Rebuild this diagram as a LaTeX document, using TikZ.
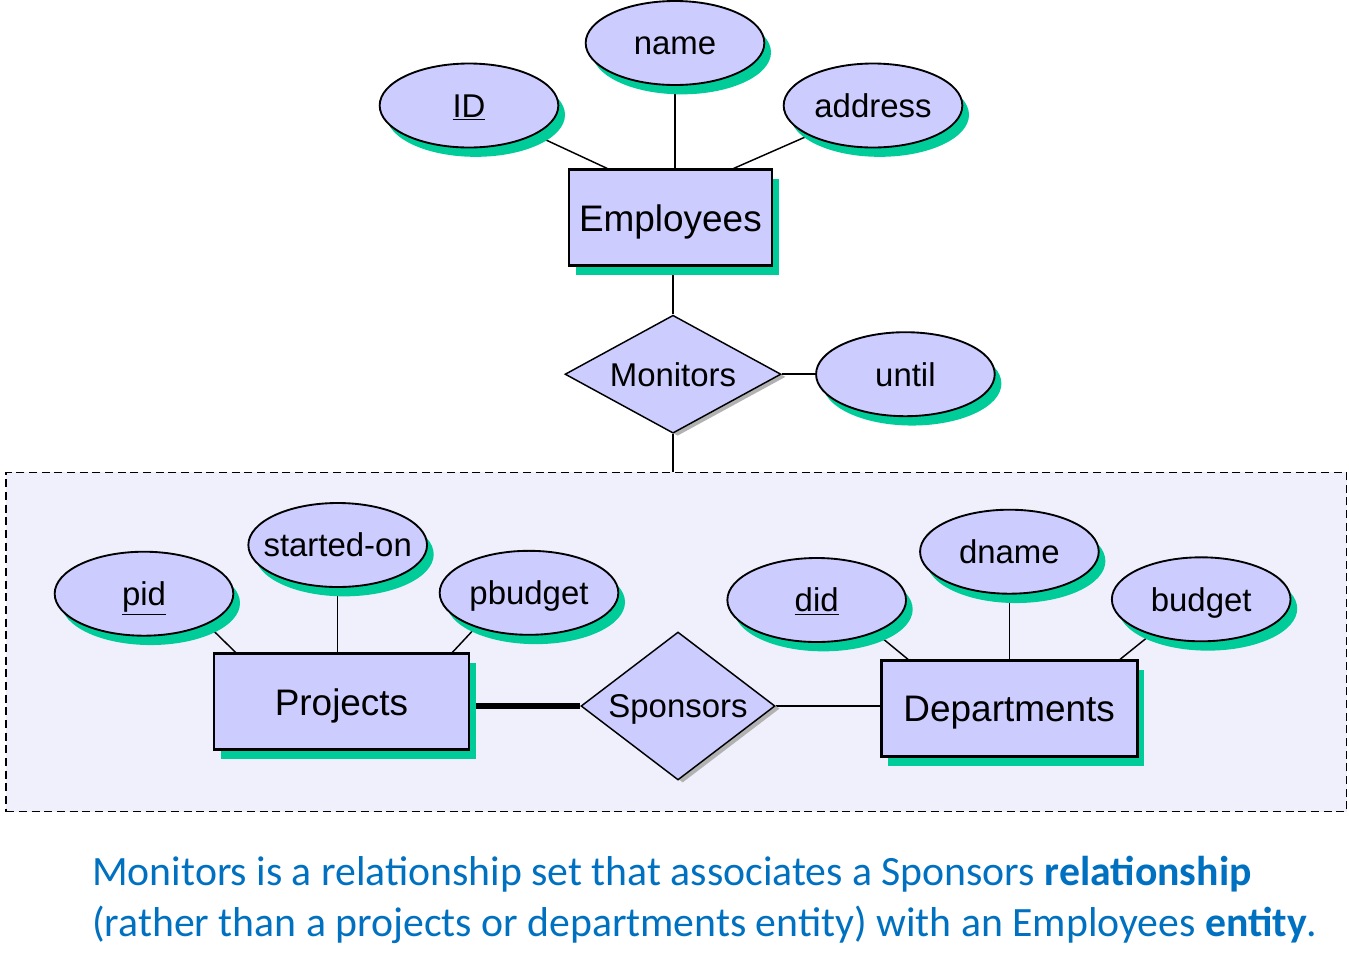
\documentclass[tikz,border=0pt]{standalone}
\usepackage{fontspec}
\setmainfont{Liberation Sans}
\newfontfamily\notefont{Carlito}
\usetikzlibrary{shapes.geometric,shadows}
\definecolor{attrBlue}{RGB}{204,204,255}
\definecolor{shadowGreen}{RGB}{0,204,153}
\definecolor{shadowGray}{RGB}{178,178,178}
\definecolor{aggFill}{RGB}{240,240,252}
\definecolor{noteBlue}{RGB}{0,112,192}

\pgfdeclarelayer{aggLayer}
\pgfdeclarelayer{lineLayer}
\pgfsetlayers{aggLayer,lineLayer,main}

\tikzset{
    attr/.style = {ellipse, draw, line width = 1.4pt, fill = attrBlue,
        minimum width = 134pt, minimum height = 63pt, inner sep = 0pt,
        text height = 17.7pt, text depth = 0pt,
        font = \fontsize{24.7}{30}\selectfont,
        drop shadow = {shadow xshift = 5pt, shadow yshift = -7pt, fill = shadowGreen, opacity = 1}},
    entityBox/.style = {rectangle, draw, line width = 2pt, fill = attrBlue,
        minimum height = 72pt, inner sep = 0pt,
        text height = 19.8pt, text depth = 0pt,
        font = \fontsize{27.7}{32}\selectfont,
        drop shadow = {shadow xshift = 5pt, shadow yshift = -7pt, fill = shadowGreen, opacity = 1}},
    relship/.style = {diamond, draw, line width = 1.1pt, fill = attrBlue, inner sep = 0pt,
        text height = 17.7pt, text depth = 0pt,
        font = \fontsize{24.7}{30}\selectfont,
        drop shadow = {shadow xshift = 3.5pt, shadow yshift = -2pt, fill = shadowGray, opacity = 1}},
    link/.style = {line width = 1.1pt},
    note/.style = {anchor = base west, inner sep = 0pt, text = noteBlue,
        font = \notefont\fontsize{31.3}{38}\selectfont}
}

\begin{document}
\begin{tikzpicture}[x = 0.75pt, y = -0.75pt]
        \useasboundingbox (0,0) rectangle (1349,972);

        % Employees and its attributes
        \node[entityBox, minimum width = 152.25pt] (employees) at (670.4,217.8) {Employees};
        \node[attr] (id) at (469,105.5) {\underline{ID}};
        \node[attr] (name) at (675,43) {name};
        \node[attr] (address) at (873,105.5) {address};

        % Monitors
        \node[relship, aspect = 1.83, minimum width = 162pt, minimum height = 88.5pt] (monitors) at (673,374.2) {Monitors};
        \node[attr] (until) at (905.4,374.2) {until};

        % aggregation: Projects - Sponsors - Departments
        \begin{pgfonlayer}{aggLayer}
        \node[rectangle, draw, dash pattern = on 6pt off 3.5pt, line width = 1.1pt, fill = aggFill,
            minimum width = 1005.3pt, minimum height = 254.6pt] (agg) at (676.4,642) {};
        \end{pgfonlayer}

        \node[entityBox, minimum width = 191.25pt] (projects) at (341.5,701.8) {Projects};
        \node[attr] (pid) at (144,593.7) {\underline{pid}};
        \node[attr, inner xsep = -10pt] (started) at (337.7,545) {started-on};
        \node[attr] (pbudget) at (529,592.8) {pbudget};

        \node[relship, aspect = 1.31, minimum width = 145.5pt, minimum height = 111pt] (sponsors) at (678,706) {Sponsors};

        \node[entityBox, minimum width = 192pt] (departments) at (1009.2,708.7) {Departments};
        \node[attr] (did) at (816.7,600) {\underline{did}};
        \node[attr] (dname) at (1009.4,551.7) {dname};
        \node[attr] (budget) at (1201.2,599.3) {budget};

        % connectors
        \begin{pgfonlayer}{lineLayer}
        \draw[link] (id.-24) -- (employees.142);
        \draw[link] (name.south) -- (name.south |- employees.north);
        \draw[link] (address.205) -- (employees.38);
        \draw[link] (monitors.north) -- (monitors.north |- employees.south);
        \draw[link] (monitors.east) -- (until);
        \draw[link] (monitors.south) -- (monitors.south |- agg.north);

        \draw[link] (pid.-26) -- (projects.155);
        \draw[link] (started.south) -- (started.south |- projects.north);
        \draw[link] (pbudget.213) -- (projects.24);
        \draw[line width = 3.8pt] (sponsors.west -| projects.east) -- (sponsors.west);
        \draw[link] (sponsors.east) -- (sponsors.east -| departments.west);
        \draw[link] (did.-29) -- (departments.154);
        \draw[link] (dname.south) -- (dname.south |- departments.north);
        \draw[link] (budget.215) -- (departments.24);
        \end{pgfonlayer}

        % caption
        \node[note] (note1) at (92,885.7) {Monitors is a relationship set that associates a Sponsors \textbf{relationship}};
        \node[note] (note2) at (92,936.7) {(rather than a projects or departments entity) with an Employees \textbf{entity}.};
\end{tikzpicture}
\end{document}
